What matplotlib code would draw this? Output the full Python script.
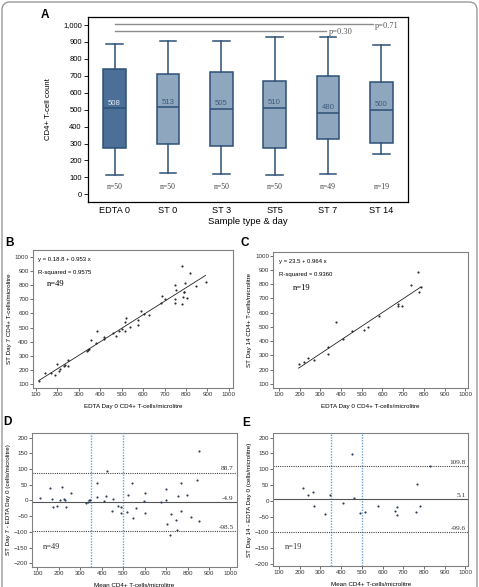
import matplotlib
matplotlib.use('Agg')
import matplotlib.pyplot as plt
from matplotlib.patches import FancyBboxPatch
from matplotlib.ticker import FuncFormatter

plt.rcParams['font.family'] = ['Liberation Sans', 'DejaVu Sans']
SERIF = ['Liberation Serif', 'DejaVu Serif']

# Panel A - box summaries per sample type & day
groups = ['EDTA 0', 'ST 0', 'ST 3', 'ST5', 'ST 7', 'ST 14']
medians = [508, 513, 505, 510, 480, 500]
q1 = [275, 297, 285, 275, 327, 305]
q3 = [742, 709, 724, 671, 697, 661]
whis_lo = [112, 124, 122, 114, 120, 236]
whis_hi = [886, 904, 907, 929, 929, 884]
n_obs = [50, 50, 50, 50, 49, 19]
p_values = ['p=0.71', 'p=0.30']

# Panel B - ST day 7 vs EDTA day 0
edta_b = [113, 143, 170, 189, 198, 209, 210, 231, 237, 249, 251, 338, 343, 347, 355,
          381, 383, 416, 419, 458, 473, 487, 500, 515, 516, 518, 538, 576, 577, 591,
          604, 627, 683, 686, 702, 747, 748, 753, 748, 781, 781, 784, 789, 795, 803,
          817, 845, 891, 790]
st7_b = [123, 182, 177, 166, 243, 194, 210, 231, 236, 271, 229, 337, 344, 349, 410,
         391, 478, 421, 431, 462, 440, 476, 488, 473, 537, 569, 502, 520, 551, 614,
         598, 586, 675, 722, 699, 671, 802, 767, 703, 936, 668, 717, 753, 812, 710,
         887, 795, 823, 748]
fit_b = (18.8, 0.953)

# Panel C - ST day 14 vs EDTA day 0
edta_c = [195, 222, 239, 270, 335, 338, 375, 408, 451, 509, 528, 585, 675, 676, 693,
          738, 771, 775, 786]
st14_c = [243, 252, 283, 266, 362, 309, 533, 414, 470, 477, 502, 577, 661, 649, 649,
          797, 888, 745, 778]
fit_c = (23.5, 0.964)

# Panel D - Bland-Altman ST day 7
mean_d = [111, 158, 169, 173, 193, 205, 215, 225, 229, 233, 256, 329, 337, 341, 344,
          376, 380, 411, 419, 425, 454, 450, 475, 488, 491, 516, 522, 539, 545, 561,
          597, 600, 603, 675, 698, 701, 704, 718, 723, 746, 752, 756, 770, 771, 798,
          815, 845, 854, 855]
diff_d = [8, 39, 5, -22, -18, 1, 44, 4, 0, -21, 24, -9, -4, 0, 3,
          55, 12, -1, 14, 94, 5, -32, -16, -21, -39, -36, 19, 55, -55, -25,
          -2, 23, -39, -4, 3, 37, -76, -111, -42, -62, -93, 14, -32, 57, 18,
          -53, 65, -66, 159]
loa_d = (-4.9, 88.7, -98.5)

# Panel E - Bland-Altman ST day 14
mean_e = [217, 239, 263, 269, 324, 346, 411, 454, 461, 491, 515, 578, 660, 669, 672,
          760, 767, 781, 829]
diff_e = [40, 17, 29, -18, -43, 17, -6, 147, 10, -40, -36, -18, -31, -19, -46,
          -36, 53, -16, 110]
loa_e = (5.1, 109.8, -99.6)

W, H = 479, 587
fig = plt.figure(figsize=(W / 100, H / 100), dpi=100)


def rect(l, t, r, b):
    return [l / W, 1 - b / H, (r - l) / W, (b - t) / H]


def px(x, y):
    return x / W, 1 - y / H


# outer rounded frame
frame = FancyBboxPatch((0.02, -0.3), 4.75, 6.15, boxstyle='round,pad=0,rounding_size=0.08',
                       transform=fig.dpi_scale_trans, facecolor='none',
                       edgecolor='#9a9a9a', linewidth=1.0)
fig.add_artist(frame)

# ---------- A ----------
edge = '#2d5176'
axA = fig.add_axes(rect(88, 17, 408, 202))
stats = [dict(label=g, med=m, q1=a, q3=b, whislo=lo, whishi=hi, fliers=[])
         for g, m, a, b, lo, hi in zip(groups, medians, q1, q3, whis_lo, whis_hi)]
pos = list(range(1, len(groups) + 1))
bp = axA.bxp(stats, positions=pos, widths=0.43, capwidths=0.31, patch_artist=True,
             showfliers=False,
             boxprops=dict(edgecolor=edge, linewidth=1.1),
             whiskerprops=dict(color=edge, linewidth=1.1),
             capprops=dict(color=edge, linewidth=1.1),
             medianprops=dict(color=edge, linewidth=1.1))
for i, box in enumerate(bp['boxes']):
    box.set_facecolor('#4b6f96' if i == 0 else '#8fa6bf')
for i, (x, m) in enumerate(zip(pos, medians)):
    axA.text(x, m + 30, str(m), ha='center', va='center', fontsize=5.6,
             color='#e3eaf2' if i == 0 else '#3e5c7d')
for x, n in zip(pos, n_obs):
    axA.text(x, 43, f'n={n}', ha='center', va='center', fontsize=5.6,
             family=SERIF, color='#444444')
axA.plot([1, 5.84], [1004, 1004], color='#8c8c8c', lw=1.0)
axA.plot([1, 4.96], [964, 964], color='#8c8c8c', lw=1.0)
axA.text(5.88, 994, p_values[0], ha='left', va='center', fontsize=6, family=SERIF, color='#555555')
axA.text(5.02, 956, p_values[1], ha='left', va='center', fontsize=6, family=SERIF, color='#555555')
axA.set_xlim(0.5, 6.5)
axA.set_ylim(-45, 1047)
axA.set_yticks(range(0, 1001, 100))
axA.yaxis.set_major_formatter(FuncFormatter(lambda v, p: f'{int(v):,}'))
axA.tick_params(axis='x', length=0, pad=3, labelsize=6.6)
axA.tick_params(axis='y', length=3, width=0.6, pad=1.5, labelsize=5.5)
for s in axA.spines.values():
    s.set_linewidth(0.9)
axA.set_xlabel('Sample type & day', fontsize=6.8, labelpad=1)
axA.set_ylabel('CD4+ T-cell count', fontsize=5.6, labelpad=8)


def small_axes(r, xlim, ylim, yticks):
    ax = fig.add_axes(r)
    ax.set_xlim(*xlim)
    ax.set_ylim(*ylim)
    ax.set_xticks(range(100, 1001, 100))
    ax.set_yticks(yticks)
    ax.tick_params(length=2, width=0.5, pad=1, labelsize=4.5, colors='#333333')
    for s in ax.spines.values():
        s.set_linewidth(0.8)
        s.set_color('#808080')
    return ax


# ---------- B ----------
axB = small_axes(rect(33, 250, 233, 388), (86, 1019), (74, 1047), range(100, 1001, 100))
axB.scatter(edta_b, st7_b, s=2.4, color='#2b2b2b', linewidths=0)
xs = [min(edta_b), max(edta_b)]
axB.plot(xs, [fit_b[0] + fit_b[1] * x for x in xs], color='#222222', lw=0.6)
axB.text(0.025, 0.93, 'y = 0.18.8 + 0.953 x', transform=axB.transAxes, fontsize=4.3, va='center')
axB.text(0.025, 0.84, 'R-squared = 0.9575', transform=axB.transAxes, fontsize=4.3, va='center')
axB.text(0.07, 0.75, 'n=49', transform=axB.transAxes, fontsize=6.2, va='center', family=SERIF)
axB.set_xlabel('EDTA Day 0 CD4+ T-cells/microlitre', fontsize=4.5, labelpad=5)
axB.set_ylabel('ST Day 7 CD4+ T-cells/microlitre', fontsize=4.5, labelpad=2)

# ---------- C ----------
axC = small_axes(rect(273.3, 251.7, 467.7, 388), (72.5, 1011.6), (72, 1028), range(100, 1001, 100))
axC.scatter(edta_c, st14_c, s=2.4, color='#2b2b2b', linewidths=0)
xs = [min(edta_c), max(edta_c)]
axC.plot(xs, [fit_c[0] + fit_c[1] * x for x in xs], color='#222222', lw=0.6)
axC.text(0.03, 0.925, 'y = 23.5 + 0.964 x', transform=axC.transAxes, fontsize=4.3, va='center')
axC.text(0.03, 0.835, 'R-squared = 0.9360', transform=axC.transAxes, fontsize=4.3, va='center')
axC.text(0.10, 0.735, 'n=19', transform=axC.transAxes, fontsize=6.2, va='center', family=SERIF)
axC.set_xlabel('EDTA Day 0 CD4+ T-cells/microlitre', fontsize=4.5, labelpad=5)
axC.set_ylabel('ST Day 14 CD4+ T-cells/microlitre', fontsize=4.5, labelpad=2)


def bland(ax, xv, yv, loa, right_x, n):
    ax.axvline(350, color='#6aa3d6', lw=1.0, ls=(0, (1, 1)))
    ax.axvline(500, color='#6aa3d6', lw=1.0, ls=(0, (1, 1)))
    ax.axhline(loa[0], color='#555555', lw=0.8)
    ax.axhline(loa[1], color='#444444', lw=0.8, ls=(0, (1, 1)))
    ax.axhline(loa[2], color='#444444', lw=0.8, ls=(0, (1, 1)))
    ax.scatter(xv, yv, s=2.4, color='#2b3e55', linewidths=0, zorder=3)
    for v in loa:
        ax.text(right_x, v + 4, f'{v}', ha='right', va='bottom', fontsize=5.2,
                family=SERIF, color='#333333')
    ax.text(127, -148, f'n={n}', ha='left', va='center', fontsize=6.0, family=SERIF,
            color='#333333')
    ax.set_xlabel('Mean CD4+ T-cells/microlitre', fontsize=4.5, labelpad=5)


# ---------- D ----------
axD = small_axes(rect(32.3, 432.7, 236.5, 566.7), (77, 1028), (-211, 216), range(-200, 201, 50))
bland(axD, mean_d, diff_d, loa_d, 1015, len(mean_d))
axD.set_ylabel('ST Day 7 - EDTA Day 0 (cells/microlitre)', fontsize=4.5, labelpad=2)

# ---------- E ----------
axE = small_axes(rect(273.3, 433.3, 468, 566), (72.5, 1013), (-207, 214), range(-200, 201, 50))
bland(axE, mean_e, diff_e, loa_e, 1003, len(mean_e))
axE.set_ylabel('ST Day 14 - EDTA Day 0 (cells/microlitre)', fontsize=4.5, labelpad=2)

# panel letters
for lab, (x, y) in zip('ABCDE', [(45, 15), (10, 243), (245, 243), (7, 422), (246, 423)]):
    fig.text(*px(x, y), lab, ha='center', va='center', fontsize=8.5, weight='bold')

fig.savefig('out.png', dpi=100)
